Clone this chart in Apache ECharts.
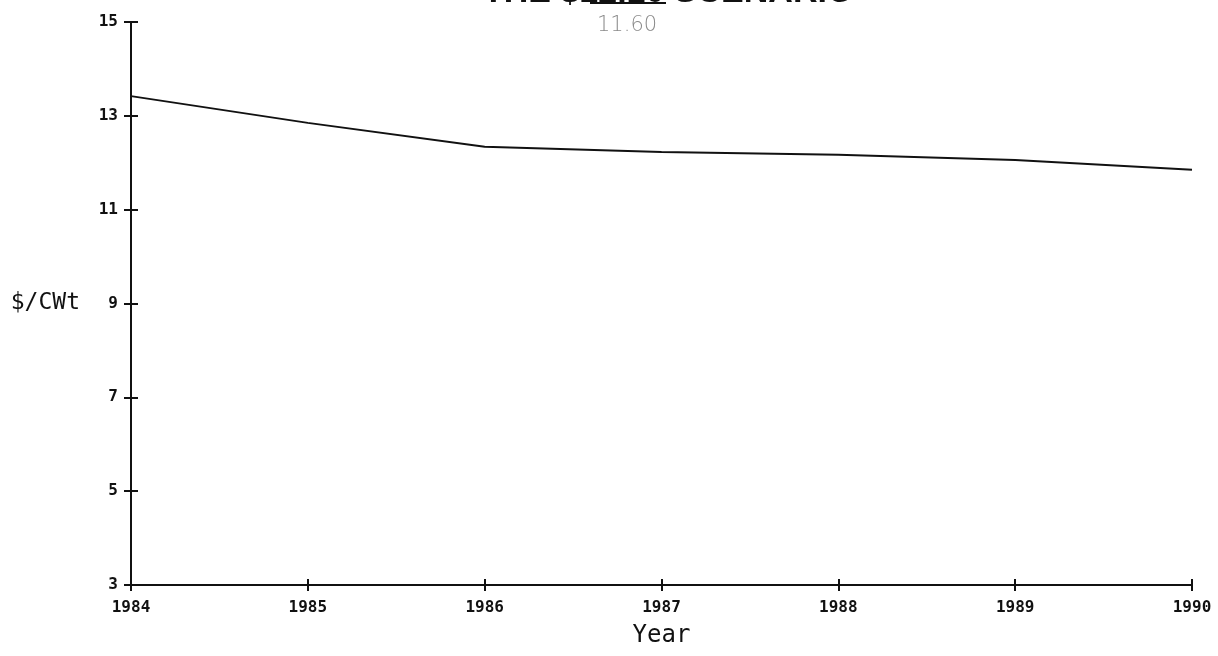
<!DOCTYPE html>
<html>
<head>
<meta charset="utf-8">
<script src="https://cdn.jsdelivr.net/npm/echarts@6/dist/echarts.min.js"></script>
<style>
  html, body { margin: 0; padding: 0; background: #fff; }
  #main { width: 1218px; height: 656px; }
</style>
</head>
<body>
<div id="main"></div>
<script>
// years on the x axis
var years = [1984, 1985, 1986, 1987, 1988, 1989, 1990];
// price, $/cwt
var price = [13.42, 12.85, 12.34, 12.23, 12.17, 12.06, 11.85];
// y ticks 3..15 step 2
var yMin = 3, yMax = 15, yStep = 2;

var data = [];
for (var i = 0; i < years.length; i++) {
  data.push([years[i], price[i]]);
}

var tickFont = '"DejaVu Sans Mono", monospace';
var nameFont = '"DejaVu Sans Mono", monospace';

var chart = echarts.init(document.getElementById('main'));
var option = {
  backgroundColor: '#fff',
  animation: false,
  grid: { left: 131, right: 26, top: 22, bottom: 71, containLabel: false, outerBoundsMode: 'none' },
  graphic: [
    {
      type: 'text',
      left: 483,
      top: -24,
      style: {
        text: 'THE $12.10 SCENARIO',
        font: 'bold 34px "Liberation Sans", sans-serif',
        fill: '#111'
      }
    },
    {
      // pencil strike over the old price
      type: 'line',
      shape: { x1: 590, y1: 3, x2: 666, y2: 3 },
      style: { stroke: '#111', lineWidth: 2 }
    },
    {
      type: 'text',
      left: 597,
      top: 15,
      style: {
        text: '11.60',
        font: '200 21px "DejaVu Sans", sans-serif',
        fill: '#8a8a8a'
      }
    }
  ],
  xAxis: [
    {
      // pushed 6px down, ticks point back up through the real axis line
      type: 'value',
      min: 1984,
      max: 1990,
      interval: 1,
      offset: 6,
      name: 'Year',
      nameLocation: 'middle',
      nameGap: 33,
      nameTextStyle: { fontFamily: nameFont, fontSize: 24, color: '#111' },
      axisLine: { show: false },
      axisTick: { show: true, inside: true, length: 12, lineStyle: { color: '#111', width: 2 } },
      axisLabel: {
        margin: 9,
        fontFamily: tickFont,
        fontWeight: 'bold',
        fontSize: 16,
        color: '#111',
        formatter: function (v) { return String(v); }
      },
      splitLine: { show: false }
    },
    {
      type: 'value',
      position: 'bottom',
      min: 1984,
      max: 1990,
      interval: 1,
      axisLine: { show: true, lineStyle: { color: '#111', width: 2 } },
      axisTick: { show: false },
      axisLabel: { show: false },
      splitLine: { show: false }
    }
  ],
  yAxis: [
    {
      type: 'value',
      min: yMin,
      max: yMax,
      interval: yStep,
      offset: 7,
      name: '$/CWt',
      nameLocation: 'middle',
      nameRotate: 0,
      nameGap: 44,
      nameTextStyle: { fontFamily: nameFont, fontSize: 23, color: '#111' },
      axisLine: { show: false },
      axisTick: { show: true, inside: true, length: 14, lineStyle: { color: '#111', width: 2 } },
      axisLabel: {
        margin: 6,
        fontFamily: tickFont,
        fontWeight: 'bold',
        fontSize: 16,
        color: '#111'
      },
      splitLine: { show: false }
    },
    {
      type: 'value',
      position: 'left',
      min: yMin,
      max: yMax,
      interval: yStep,
      axisLine: { show: true, lineStyle: { color: '#111', width: 2 } },
      axisTick: { show: false },
      axisLabel: { show: false },
      splitLine: { show: false }
    }
  ],
  series: [
    {
      type: 'line',
      data: data,
      showSymbol: false,
      smooth: false,
      lineStyle: { color: '#111', width: 2 }
    },
    {
      // same points on the second axis pair so those axes get a scale
      type: 'line',
      xAxisIndex: 1,
      yAxisIndex: 1,
      data: data,
      showSymbol: false,
      silent: true,
      lineStyle: { opacity: 0 }
    }
  ]
};
chart.setOption(option);
</script>
</body>
</html>
